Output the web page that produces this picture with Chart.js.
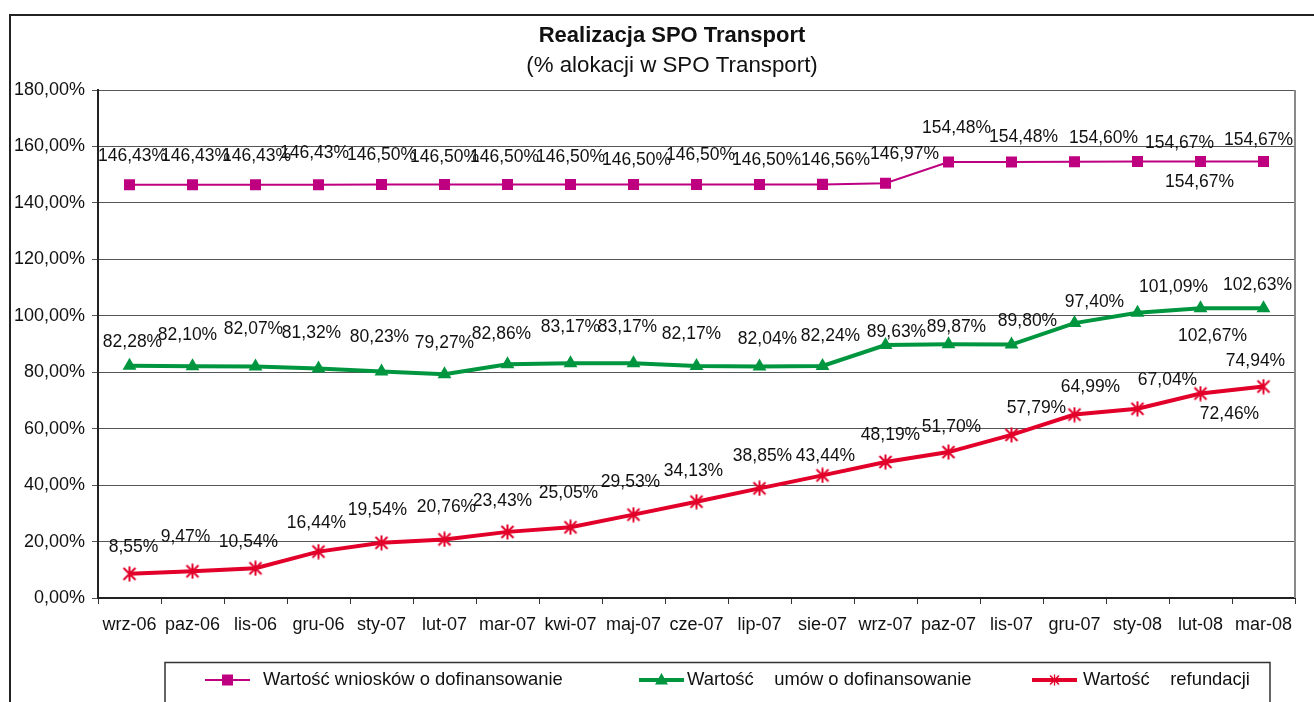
<!DOCTYPE html>
<html>
<head>
<meta charset="utf-8">
<script src="https://cdn.jsdelivr.net/npm/chart.js@4.4.1/dist/chart.umd.min.js"></script>
<style>
  html, body { margin: 0; padding: 0; background: #ffffff; }
  #wrap { position: relative; width: 1314px; height: 702px; }
</style>
</head>
<body>
<div id="wrap"><canvas id="c"></canvas></div>
<script>
// ---- data ----
const categories = ['wrz-06','paz-06','lis-06','gru-06','sty-07','lut-07','mar-07','kwi-07','maj-07','cze-07','lip-07','sie-07','wrz-07','paz-07','lis-07','gru-07','sty-08','lut-08','mar-08'];
const wnioski = [146.43,146.43,146.43,146.43,146.50,146.50,146.50,146.50,146.50,146.50,146.50,146.56,146.97,154.48,154.48,154.60,154.67,154.67,154.67];
const umowy = [82.28,82.10,82.07,81.32,80.23,79.27,82.86,83.17,83.17,82.17,82.04,82.24,89.63,89.87,89.80,97.40,101.09,102.67,102.63];
const refundacje = [8.55,9.47,10.54,16.44,19.54,20.76,23.43,25.05,29.53,34.13,38.85,43.44,48.19,51.70,57.79,64.99,67.04,72.46,74.94];
const yTickLabels = ['0,00%','20,00%','40,00%','60,00%','80,00%','100,00%','120,00%','140,00%','160,00%','180,00%'];
const seriesNames = ['Wartość wniosków o dofinansowanie','Wartość    umów o dofinansowanie','Wartość    refundacji'];
const titleText = 'Realizacja SPO Transport';
const subtitleText = '(% alokacji w SPO Transport)';

// ---- data label offsets (relative to each point, px) ----
const wnioskiDx = [3,3,1,-4,0,0,-3,0,3,4,7,13,19,8,12,29,42,-1,-5];
const wnioskiDy = [-29,-29,-29,-32,-29,-27,-27,-27,-24,-29,-24,-24,-29,-34,-25,-24,-18,21,-21];
const umowyDx = [3,-5,-2,-7,-2,0,-6,0,-6,-5,8,8,11,8,16,20,36,12,-6];
const umowyDy = [-24,-31,-37,-35,-34,-31,-30,-36,-36,-32,-27,-30,-13,-17,-23,-21,-26,28,-23];
const refDx = [4,-7,-7,-2,-4,2,-5,-2,-3,-3,3,3,5,3,25,16,30,29,-8];
const refDy = [-27,-34,-26,-28,-33,-32,-31,-34,-32,-31,-32,-19,-27,-25,-27,-27,-29,21,-25];

const MAGENTA = '#BE0080';
const GREEN = '#00963F';
const RED = '#E2002A';
const FONT = '"Liberation Sans", Arial, sans-serif';

// star (asterisk) marker
const star = document.createElement('canvas');
star.width = 16; star.height = 16;
(function(){
  const g = star.getContext('2d');
  g.strokeStyle = RED; g.lineWidth = 2; g.lineCap = 'butt';
  g.beginPath();
  g.moveTo(2,2); g.lineTo(14,14);
  g.moveTo(14,2); g.lineTo(2,14);
  g.moveTo(8,0.5); g.lineTo(8,15.5);
  g.stroke();
})();

const fmt = v => v.toFixed(2).replace('.', ',') + '%';

const offsets = [[wnioskiDx, wnioskiDy],[umowyDx, umowyDy],[refDx, refDy]];

const decorPlugin = {
  id: 'decor',
  beforeDraw(chart) {
    const ctx = chart.ctx;
    ctx.save();
    ctx.fillStyle = '#fff';
    ctx.fillRect(0, 0, chart.width, chart.height);
    // outer frame
    ctx.strokeStyle = '#222';
    ctx.lineWidth = 2;
    ctx.beginPath();
    ctx.moveTo(10, 702); ctx.lineTo(10, 15); ctx.lineTo(1314, 15);
    ctx.stroke();
    // titles
    ctx.fillStyle = '#111';
    ctx.textAlign = 'center';
    ctx.textBaseline = 'middle';
    ctx.font = 'bold 22px ' + FONT;
    ctx.fillText(titleText, 672, 36);
    ctx.font = '22.3px ' + FONT;
    ctx.fillText(subtitleText, 672, 66);
    ctx.restore();
  },
  afterDraw(chart) {
    const ctx = chart.ctx;
    const a = chart.chartArea;
    ctx.save();
    // right border of plot
    ctx.strokeStyle = '#8a8a8a';
    ctx.lineWidth = 2;
    ctx.beginPath();
    ctx.moveTo(a.right, a.top); ctx.lineTo(a.right, a.bottom);
    ctx.stroke();
    // data labels
    ctx.fillStyle = '#111';
    ctx.font = '17.5px ' + FONT;
    ctx.textAlign = 'center';
    ctx.textBaseline = 'middle';
    chart.data.datasets.forEach((ds, di) => {
      const meta = chart.getDatasetMeta(di);
      meta.data.forEach((pt, i) => {
        const [dx, dy] = offsets[di];
        ctx.fillText(fmt(ds.data[i]), pt.x + dx[i], pt.y + dy[i]);
      });
    });
    // legend box
    ctx.strokeStyle = '#333';
    ctx.lineWidth = 1.5;
    ctx.beginPath();
    ctx.moveTo(165, 710); ctx.lineTo(165, 662.5); ctx.lineTo(1270, 662.5); ctx.lineTo(1270, 710);
    ctx.stroke();
    const items = [
      {x0: 205, tx: 263},
      {x0: 639, tx: 687},
      {x0: 1032, tx: 1083}
    ];
    const ly = 680;
    chart.data.datasets.forEach((ds, di) => {
      const it = items[di];
      ctx.strokeStyle = ds.borderColor;
      ctx.lineWidth = ds.borderWidth;
      ctx.beginPath();
      ctx.moveTo(it.x0, ly); ctx.lineTo(it.x0 + 45, ly);
      ctx.stroke();
      const cx = it.x0 + 22.5;
      ctx.fillStyle = ds.borderColor;
      if (di === 0) {
        ctx.fillRect(cx - 5.5, ly - 5.5, 11, 11);
      } else if (di === 1) {
        ctx.beginPath();
        ctx.moveTo(cx, ly - 7); ctx.lineTo(cx + 6.5, ly + 4.5); ctx.lineTo(cx - 6.5, ly + 4.5);
        ctx.closePath(); ctx.fill();
      } else {
        ctx.drawImage(star, cx - 6, ly - 6, 12, 12);
      }
      ctx.fillStyle = '#111';
      ctx.font = '18.4px ' + FONT;
      ctx.textAlign = 'left';
      ctx.textBaseline = 'middle';
      ctx.fillText(ds.label, it.tx, ly);
    });
    ctx.restore();
  }
};

new Chart(document.getElementById('c'), {
  type: 'line',
  data: {
    labels: categories,
    datasets: [
      {
        label: seriesNames[0], data: wnioski,
        borderColor: MAGENTA, backgroundColor: MAGENTA, borderWidth: 2,
        pointStyle: 'rect', pointRadius: 7.8, pointHoverRadius: 7.8,
        pointBackgroundColor: MAGENTA, pointBorderColor: MAGENTA, pointBorderWidth: 0,
        tension: 0, fill: false
      },
      {
        label: seriesNames[1], data: umowy,
        borderColor: GREEN, backgroundColor: GREEN, borderWidth: 4,
        pointStyle: 'triangle', pointRadius: 8, pointHoverRadius: 8,
        pointBackgroundColor: GREEN, pointBorderColor: GREEN, pointBorderWidth: 0,
        tension: 0, fill: false
      },
      {
        label: seriesNames[2], data: refundacje,
        borderColor: RED, backgroundColor: RED, borderWidth: 4,
        pointStyle: star, pointRadius: 8, pointHoverRadius: 8,
        tension: 0, fill: false
      }
    ]
  },
  options: {
    responsive: true,
    maintainAspectRatio: false,
    animation: false,
    events: [],
    layout: { padding: { top: 90, right: 19, left: 0, bottom: 0 } },
    plugins: {
      legend: { display: false },
      title: { display: false },
      tooltip: { enabled: false }
    },
    scales: {
      x: {
        type: 'category',
        offset: true,
        afterFit(scale) { scale.height = 104; },
        grid: {
          offset: true, drawOnChartArea: false, drawTicks: true,
          tickLength: 6, color: '#333', lineWidth: 1
        },
        border: { display: true, color: '#222', width: 2 },
        ticks: {
          color: '#111', font: { family: FONT, size: 18 },
          padding: 10, maxRotation: 0, autoSkip: false
        }
      },
      y: {
        min: 0, max: 180,
        afterFit(scale) { scale.width = 98; },
        afterBuildTicks(scale) {
          scale.ticks = yTickLabels.map((_, i) => ({ value: i * 20 }));
        },
        grid: {
          color: '#555', lineWidth: 1, drawTicks: true, tickLength: 6
        },
        border: { display: true, color: '#222', width: 2 },
        ticks: {
          color: '#111', font: { family: FONT, size: 18 }, padding: 7,
          callback: (v, i) => yTickLabels[i]
        }
      }
    }
  },
  plugins: [decorPlugin]
});
</script>
</body>
</html>
